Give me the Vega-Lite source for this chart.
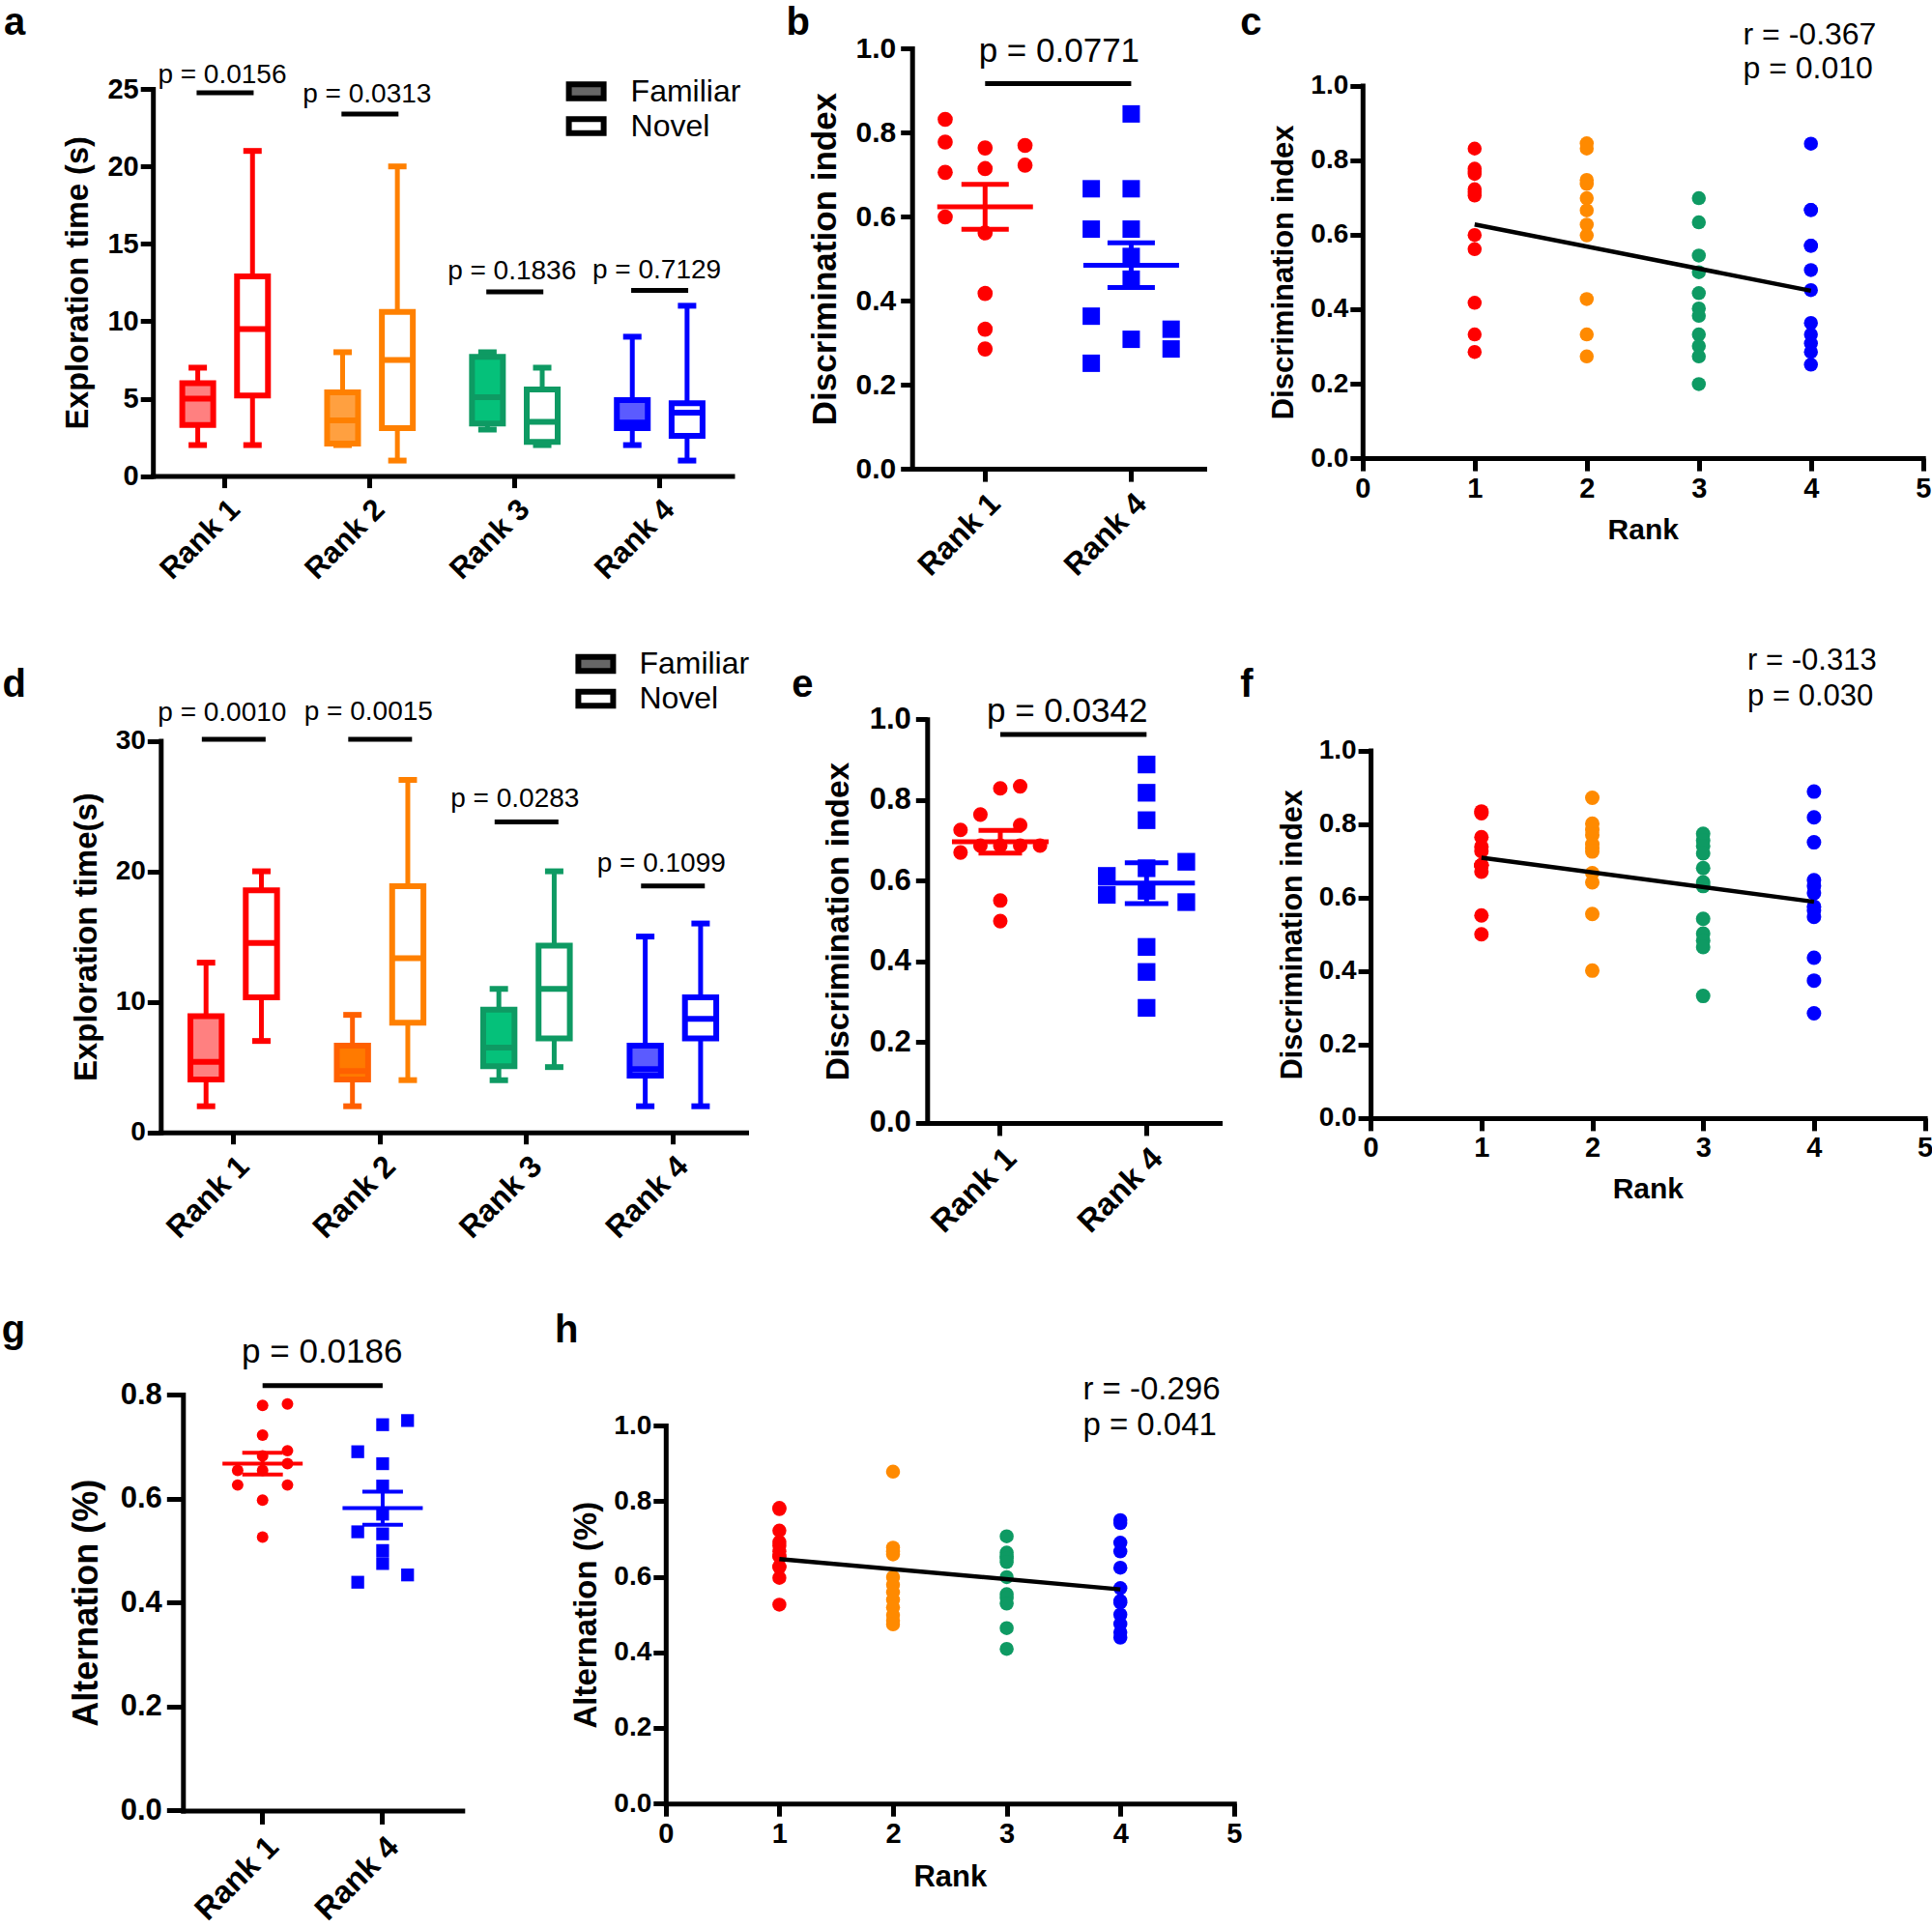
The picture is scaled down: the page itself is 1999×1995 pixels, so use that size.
{
"$schema":"https://vega.github.io/schema/vega-lite/v6.json",
"width":1999,"height":1995,"autosize":{"type":"none"},"padding":0,"background":"white",
"config":{"font":"Liberation Sans","view":{"stroke":null},
"axis":{"grid":false,"domainColor":"#000","domainWidth":5,"tickColor":"#000","tickWidth":5,"labelColor":"#000","labelFont":"Liberation Sans","labelFontWeight":"bold","titleColor":"#000","titleFont":"Liberation Sans","titleFontWeight":"bold","labelOverlap":false,"labelFlush":false,"labelBound":false,"domainCap":"square"},
"text":{"font":"Liberation Sans","color":"#000"},
"circle":{"opacity":1},"square":{"opacity":1},"point":{"opacity":1},"tick":{"opacity":1}},
"datasets":{
"box_a":[
{"n":1,"g":"Familiar","k":"1F","lo":2,"q1":3.3,"med":5.0,"q3":6.0,"hi":7},
{"n":1,"g":"Novel","k":"1N","lo":2,"q1":5.2,"med":9.5,"q3":12.9,"hi":21},
{"n":2,"g":"Familiar","k":"2F","lo":2,"q1":2.1,"med":3.6,"q3":5.4,"hi":8},
{"n":2,"g":"Novel","k":"2N","lo":1,"q1":3.1,"med":7.5,"q3":10.6,"hi":20},
{"n":3,"g":"Familiar","k":"3F","lo":3,"q1":3.4,"med":5.1,"q3":7.7,"hi":8},
{"n":3,"g":"Novel","k":"3N","lo":2,"q1":2.2,"med":3.5,"q3":5.6,"hi":7},
{"n":4,"g":"Familiar","k":"4F","lo":2,"q1":3.1,"med":3.45,"q3":4.9,"hi":9},
{"n":4,"g":"Novel","k":"4N","lo":1,"q1":2.6,"med":4.1,"q3":4.7,"hi":11}],
"box_d":[
{"n":1,"g":"Familiar","k":"1F","lo":2,"q1":4.05,"med":5.4,"q3":8.9,"hi":13},
{"n":1,"g":"Novel","k":"1N","lo":7,"q1":10.35,"med":14.5,"q3":18.55,"hi":20},
{"n":2,"g":"Familiar","k":"2F","lo":2,"q1":4.05,"med":4.7,"q3":6.65,"hi":9},
{"n":2,"g":"Novel","k":"2N","lo":4,"q1":8.4,"med":13.35,"q3":18.85,"hi":27},
{"n":3,"g":"Familiar","k":"3F","lo":4,"q1":5.06,"med":6.5,"q3":9.4,"hi":11},
{"n":3,"g":"Novel","k":"3N","lo":5,"q1":7.2,"med":11,"q3":14.3,"hi":20},
{"n":4,"g":"Familiar","k":"4F","lo":2,"q1":4.35,"med":4.85,"q3":6.65,"hi":15},
{"n":4,"g":"Novel","k":"4N","lo":2,"q1":7.2,"med":8.7,"q3":10.35,"hi":16}],
"p_a":[{"n":1,"bar":24.76,"ty":25.88,"label":"p = 0.0156"},{"n":2,"bar":23.39,"ty":24.66,"label":"p = 0.0313"},{"n":3,"bar":11.89,"ty":13.21,"label":"p = 0.1836"},{"n":4,"bar":11.99,"ty":13.26,"label":"p = 0.7129"}],
"p_d":[{"n":1,"bar":30.11,"ty":32.08,"label":"p = 0.0010"},{"n":2,"bar":30.11,"ty":32.22,"label":"p = 0.0015"},{"n":3,"bar":23.78,"ty":25.54,"label":"p = 0.0283"},{"n":4,"bar":18.87,"ty":20.59,"label":"p = 0.1099"}],
"di_nor":[
{"n":1,"lane":-1,"v":0.831},{"n":1,"lane":-1,"v":0.777},{"n":1,"lane":-1,"v":0.705},{"n":1,"lane":-1,"v":0.599},
{"n":1,"lane":0,"v":0.763},{"n":1,"lane":0,"v":0.714},{"n":1,"lane":0,"v":0.561},{"n":1,"lane":0,"v":0.417},{"n":1,"lane":0,"v":0.332},{"n":1,"lane":0,"v":0.285},
{"n":1,"lane":1,"v":0.769},{"n":1,"lane":1,"v":0.722},
{"n":2,"v":0.845},{"n":2,"v":0.831},{"n":2,"v":0.747},{"n":2,"v":0.736},{"n":2,"v":0.698},{"n":2,"v":0.665},{"n":2,"v":0.627},{"n":2,"v":0.598},{"n":2,"v":0.427},{"n":2,"v":0.332},{"n":2,"v":0.273},
{"n":3,"v":0.698},{"n":3,"v":0.633},{"n":3,"v":0.544},{"n":3,"v":0.499},{"n":3,"v":0.443},{"n":3,"v":0.402},{"n":3,"v":0.382},{"n":3,"v":0.332},{"n":3,"v":0.301},{"n":3,"v":0.273},{"n":3,"v":0.199},
{"n":4,"lane":-1,"v":0.666},{"n":4,"lane":-1,"v":0.570},{"n":4,"lane":-1,"v":0.363},{"n":4,"lane":-1,"v":0.251},
{"n":4,"lane":0,"v":0.844},{"n":4,"lane":0,"v":0.666},{"n":4,"lane":0,"v":0.570},{"n":4,"lane":0,"v":0.505},{"n":4,"lane":0,"v":0.451},{"n":4,"lane":0,"v":0.308},
{"n":4,"lane":1,"v":0.332},{"n":4,"lane":1,"v":0.285}],
"di_5":[
{"n":1,"lane":0,"v":0.829},{"n":1,"lane":0,"v":0.687},{"n":1,"lane":0,"v":0.551},{"n":1,"lane":0,"v":0.5},
{"n":1,"lane":0.5,"v":0.834},{"n":1,"lane":0.5,"v":0.738},{"n":1,"lane":0.5,"v":0.687},
{"n":1,"lane":-0.5,"v":0.764},{"n":1,"lane":-0.5,"v":0.687},
{"n":1,"lane":-1,"v":0.726},{"n":1,"lane":-1,"v":0.670},{"n":1,"lane":1,"v":0.687},
{"n":2,"v":0.871},{"n":2,"v":0.801},{"n":2,"v":0.784},{"n":2,"v":0.77},{"n":2,"v":0.745},{"n":2,"v":0.735},{"n":2,"v":0.725},{"n":2,"v":0.666},{"n":2,"v":0.641},{"n":2,"v":0.555},{"n":2,"v":0.401},
{"n":3,"v":0.773},{"n":3,"v":0.755},{"n":3,"v":0.74},{"n":3,"v":0.72},{"n":3,"v":0.68},{"n":3,"v":0.641},{"n":3,"v":0.631},{"n":3,"v":0.542},{"n":3,"v":0.502},{"n":3,"v":0.483},{"n":3,"v":0.465},{"n":3,"v":0.332},
{"n":4,"lane":0,"v":0.888},{"n":4,"lane":0,"v":0.818},{"n":4,"lane":0,"v":0.75},{"n":4,"lane":0,"v":0.631},{"n":4,"lane":0,"v":0.575},{"n":4,"lane":0,"v":0.436},{"n":4,"lane":0,"v":0.374},{"n":4,"lane":0,"v":0.285},
{"n":4,"lane":-1,"v":0.612},{"n":4,"lane":-1,"v":0.565},{"n":4,"lane":1,"v":0.647},{"n":4,"lane":1,"v":0.547}],
"alt":[
{"n":1,"lane":0,"v":0.779},{"n":1,"lane":0,"v":0.722},{"n":1,"lane":0,"v":0.682},{"n":1,"lane":0,"v":0.654},{"n":1,"lane":0,"v":0.597},{"n":1,"lane":0,"v":0.526},
{"n":1,"lane":1,"v":0.782},{"n":1,"lane":1,"v":0.692},{"n":1,"lane":1,"v":0.667},{"n":1,"lane":1,"v":0.626},
{"n":1,"lane":-1,"v":0.654},{"n":1,"lane":-1,"v":0.626},
{"n":2,"v":0.878},{"n":2,"v":0.677},{"n":2,"v":0.667},{"n":2,"v":0.659},{"n":2,"v":0.599},{"n":2,"v":0.579},{"n":2,"v":0.559},{"n":2,"v":0.539},{"n":2,"v":0.519},{"n":2,"v":0.499},{"n":2,"v":0.484},{"n":2,"v":0.474},
{"n":3,"v":0.707},{"n":3,"v":0.664},{"n":3,"v":0.654},{"n":3,"v":0.649},{"n":3,"v":0.639},{"n":3,"v":0.599},{"n":3,"v":0.554},{"n":3,"v":0.544},{"n":3,"v":0.529},{"n":3,"v":0.464},{"n":3,"v":0.409},
{"n":4,"lane":0,"v":0.742},{"n":4,"lane":0,"v":0.667},{"n":4,"lane":0,"v":0.624},{"n":4,"lane":0,"v":0.570},{"n":4,"lane":0,"v":0.532},{"n":4,"lane":0,"v":0.5},{"n":4,"lane":0,"v":0.475},
{"n":4,"lane":-1,"v":0.690},{"n":4,"lane":-1,"v":0.536},{"n":4,"lane":-1,"v":0.439},
{"n":4,"lane":1,"v":0.75},{"n":4,"lane":1,"v":0.453}]
},
"layer":[
{
"data":{"name":"box_a"},
"resolve":{"scale":{"fill":"independent"},"legend":{"fill":"independent"}},
"encoding":{"x":{"field":"n","type":"ordinal","scale":{"type":"band","domain":[1,2,3,4],"range":[158,757.5],"paddingInner":0,"paddingOuter":0},"axis":{"orient":"bottom","offset":-1502.4,"title":null,"labelExpr":"'Rank ' + datum.value","labelAngle":-45,"labelFontSize":31,"bandPosition":0.5,"tickSize":12,"labelPadding":7}}},
"layer":[
{"mark":{"type":"rule","strokeWidth":5},"encoding":{"xOffset":{"field":"g","type":"nominal","scale":{"domain":["Familiar","Novel"],"paddingInner":0.435,"paddingOuter":0.54}},"y":{"field":"lo","type":"quantitative","scale":{"domain":[0,25],"range":[492.6,92.1],"nice":false,"zero":false},"axis":{"orient":"left","offset":-158.2,"title":"Exploration time (s)","values":[0,5,10,15,20,25],"labelFontSize":29,"titleFontSize":32.5,"tickSize":13,"labelPadding":2,"titlePadding":13}},"y2":{"field":"q1"},"color":{"field":"k","type":"nominal","scale":{"domain":["1F","1N","2F","2N","3F","3N","4F","4N"],"range":["#FF0000","#FF0000","#FF8000","#FF8000","#0E9A63","#0E9A63","#0000FF","#0000FF"]},"legend":null}}},
{"mark":{"type":"rule","strokeWidth":5},"encoding":{"xOffset":{"field":"g","type":"nominal"},"y":{"field":"q3","type":"quantitative","scale":{"domain":[0,25],"range":[492.6,92.1],"nice":false,"zero":false},"axis":{"orient":"left","offset":-158.2,"title":"Exploration time (s)","values":[0,5,10,15,20,25],"labelFontSize":29,"titleFontSize":32.5,"tickSize":13,"labelPadding":2,"titlePadding":13}},"y2":{"field":"hi"},"color":{"field":"k","type":"nominal","legend":null}}},
{"mark":{"type":"tick","size":19,"thickness":6},"encoding":{"xOffset":{"field":"g","type":"nominal"},"y":{"field":"lo","type":"quantitative","scale":{"domain":[0,25],"range":[492.6,92.1],"nice":false,"zero":false},"axis":{"orient":"left","offset":-158.2,"title":"Exploration time (s)","values":[0,5,10,15,20,25],"labelFontSize":29,"titleFontSize":32.5,"tickSize":13,"labelPadding":2,"titlePadding":13}},"color":{"field":"k","type":"nominal","legend":null}}},
{"mark":{"type":"tick","size":19,"thickness":6},"encoding":{"xOffset":{"field":"g","type":"nominal"},"y":{"field":"hi","type":"quantitative","scale":{"domain":[0,25],"range":[492.6,92.1],"nice":false,"zero":false},"axis":{"orient":"left","offset":-158.2,"title":"Exploration time (s)","values":[0,5,10,15,20,25],"labelFontSize":29,"titleFontSize":32.5,"tickSize":13,"labelPadding":2,"titlePadding":13}},"color":{"field":"k","type":"nominal","legend":null}}},
{"mark":{"type":"bar","strokeWidth":6},"encoding":{"xOffset":{"field":"g","type":"nominal"},"y":{"field":"q1","type":"quantitative","scale":{"domain":[0,25],"range":[492.6,92.1],"nice":false,"zero":false},"axis":{"orient":"left","offset":-158.2,"title":"Exploration time (s)","values":[0,5,10,15,20,25],"labelFontSize":29,"titleFontSize":32.5,"tickSize":13,"labelPadding":2,"titlePadding":13}},"y2":{"field":"q3"},"fill":{"field":"k","type":"nominal","scale":{"domain":["1F","1N","2F","2N","3F","3N","4F","4N"],"range":["#FF8080","#FFFFFF","#FFA040","#FFFFFF","#05C17A","#FFFFFF","#5B5BFF","#FFFFFF"]},"legend":null},"stroke":{"field":"k","type":"nominal","scale":{"domain":["1F","1N","2F","2N","3F","3N","4F","4N"],"range":["#FF0000","#FF0000","#FF8000","#FF8000","#0E9A63","#0E9A63","#0000FF","#0000FF"]},"legend":null}}},
{"mark":{"type":"tick","size":32,"thickness":6},"encoding":{"xOffset":{"field":"g","type":"nominal"},"y":{"field":"med","type":"quantitative","scale":{"domain":[0,25],"range":[492.6,92.1],"nice":false,"zero":false},"axis":{"orient":"left","offset":-158.2,"title":"Exploration time (s)","values":[0,5,10,15,20,25],"labelFontSize":29,"titleFontSize":32.5,"tickSize":13,"labelPadding":2,"titlePadding":13}},"color":{"field":"k","type":"nominal","legend":null}}},
{"data":{"name":"p_a"},"mark":{"type":"tick","size":59,"thickness":5,"color":"#000"},"encoding":{"y":{"field":"bar","type":"quantitative","scale":{"domain":[0,25],"range":[492.6,92.1],"nice":false,"zero":false},"axis":{"orient":"left","offset":-158.2,"title":"Exploration time (s)","values":[0,5,10,15,20,25],"labelFontSize":29,"titleFontSize":32.5,"tickSize":13,"labelPadding":2,"titlePadding":13}}}},
{"data":{"name":"p_a"},"mark":{"type":"text","fontSize":28,"dx":-3},"encoding":{"y":{"field":"ty","type":"quantitative","scale":{"domain":[0,25],"range":[492.6,92.1],"nice":false,"zero":false},"axis":{"orient":"left","offset":-158.2,"title":"Exploration time (s)","values":[0,5,10,15,20,25],"labelFontSize":29,"titleFontSize":32.5,"tickSize":13,"labelPadding":2,"titlePadding":13}},"text":{"field":"label"}}},
{"data":{"values":[]},"mark":{"type":"point","filled":true,"stroke":"#000","strokeWidth":6,"shape":"M-1.5,-0.6H1.5V0.6H-1.5Z","size":576},
"encoding":{"fill":{"field":"g","type":"nominal","scale":{"domain":["Familiar","Novel"],"range":["#666666","#FFFFFF"]},"legend":{"orient":"none","legendX":581.6,"legendY":77.5,"title":null,"symbolType":"M-1.5,-0.6H1.5V0.6H-1.5Z","symbolSize":576,"symbolOffset":9,"symbolStrokeColor":"#000","symbolStrokeWidth":6,"labelFontSize":32,"labelFontWeight":"normal","labelColor":"#000","labelOffset":30,"rowPadding":2,"clipHeight":34,"padding":0}}}}
]},
{
"data":{"name":"di_nor"},
"encoding":{"x":{"field":"n","type":"ordinal","scale":{"type":"band","domain":[1,4],"range":[943.7,1246],"paddingInner":0,"paddingOuter":0},"axis":{"orient":"bottom","offset":-1509.9,"title":null,"labelExpr":"'Rank ' + datum.value","labelAngle":-45,"labelFontSize":32,"bandPosition":0.5,"tickSize":13,"labelPadding":7}},
"y":{"field":"v","type":"quantitative","scale":{"domain":[0,1],"range":[485.1,50],"nice":false,"zero":false},"axis":{"orient":"left","offset":-943.7,"title":"Discrimination index","values":[0,0.2,0.4,0.6,0.8,1],"format":".1f","labelFontSize":30,"titleFontSize":35,"tickSize":12,"labelPadding":5,"titlePadding":13}}},
"layer":[
{"transform":[{"filter":"datum.n == 1"}],"mark":{"type":"circle","size":246},"encoding":{"xOffset":{"field":"lane","type":"quantitative","scale":{"domain":[-1.83,1.83]}},"color":{"field":"n","type":"nominal","scale":{"domain":[1,2,3,4],"range":["#FF0000","#FF8A00","#0E9A63","#0000FF"]},"legend":null}}},
{"transform":[{"filter":"datum.n == 4"}],"mark":{"type":"square","size":324},"encoding":{"xOffset":{"field":"lane","type":"quantitative"},"color":{"field":"n","type":"nominal","legend":null}}},
{"transform":[{"filter":"datum.n == 1 || datum.n == 4"}],"mark":{"type":"errorbar","extent":"stderr","thickness":5,"ticks":{"size":49,"thickness":5}},"encoding":{"color":{"field":"n","type":"nominal","legend":null}}},
{"transform":[{"filter":"datum.n == 1 || datum.n == 4"}],"mark":{"type":"tick","size":99,"thickness":5},"encoding":{"y":{"aggregate":"mean","field":"v","type":"quantitative","axis":{"orient":"left","offset":-943.7,"title":"Discrimination index","values":[0,0.2,0.4,0.6,0.8,1],"format":".1f","labelFontSize":30,"titleFontSize":35,"tickSize":12,"labelPadding":5,"titlePadding":13}},"color":{"field":"n","type":"nominal","legend":null}}},
{"data":{"values":[{"n":1,"n2":4,"v":0.916}]},"mark":{"type":"rule","strokeWidth":5,"color":"#000"},"encoding":{"x2":{"field":"n2"}}},
{"data":{"values":[{"n":1,"v":0.994,"label":"p = 0.0771"}]},"mark":{"type":"text","fontSize":35,"align":"left","dx":-6.6},"encoding":{"text":{"field":"label"}}}
]},
{
"data":{"name":"di_nor"},
"encoding":{"x":{"field":"n","type":"quantitative","scale":{"domain":[0,5],"range":[1409.8,1989.7],"nice":false,"zero":false},"axis":{"orient":"bottom","offset":-1520.9,"title":"Rank","values":[0,1,2,3,4,5],"format":"d","labelFontSize":29,"titleFontSize":30,"tickSize":13,"labelPadding":4,"titlePadding":13}},
"y":{"field":"v","type":"quantitative","scale":{"domain":[0,1],"range":[474.1,88.6],"nice":false,"zero":false},"axis":{"orient":"left","offset":-1409.8,"title":"Discrimination index","values":[0,0.2,0.4,0.6,0.8,1],"format":".1f","labelFontSize":28,"titleFontSize":31,"tickSize":13,"labelPadding":2,"titlePadding":11}}},
"layer":[
{"mark":{"type":"circle","size":210},"encoding":{"color":{"field":"n","type":"nominal","scale":{"domain":[1,2,3,4],"range":["#FF0000","#FF8A00","#0E9A63","#0000FF"]},"legend":null}}},
{"transform":[{"regression":"v","on":"n","extent":[1,4]}],"mark":{"type":"line","color":"#000","strokeWidth":4.5},"encoding":{}},
{"data":{"values":[{"n":3.395,"v":1.137,"label":"r = -0.367"},{"n":3.395,"v":1.046,"label":"p = 0.010"}]},"mark":{"type":"text","fontSize":32,"align":"left"},"encoding":{"text":{"field":"label"}}},
{"data":{"values":[{"n":-12.12,"v":1.2192,"label":"a"},{"n":-5.141,"v":1.2192,"label":"b"},{"n":-1.091,"v":1.2192,"label":"c"}]},"mark":{"type":"text","fontSize":40,"fontWeight":"bold","align":"left","baseline":"top"},"encoding":{"text":{"field":"label"}}}
]},
{
"data":{"name":"box_d"},
"resolve":{"scale":{"fill":"independent"},"legend":{"fill":"independent"}},
"encoding":{"x":{"field":"n","type":"ordinal","scale":{"type":"band","domain":[1,2,3,4],"range":[166.1,772],"paddingInner":0,"paddingOuter":0},"axis":{"orient":"bottom","offset":-823.3,"title":null,"labelExpr":"'Rank ' + datum.value","labelAngle":-45,"labelFontSize":32,"bandPosition":0.5,"tickSize":12,"labelPadding":7}}},
"layer":[
{"mark":{"type":"rule","strokeWidth":5},"encoding":{"xOffset":{"field":"g","type":"nominal","scale":{"domain":["Familiar","Novel"],"paddingInner":0.435,"paddingOuter":0.54}},"y":{"field":"lo","type":"quantitative","scale":{"domain":[0,30],"range":[1171.7,766.5],"nice":false,"zero":false},"axis":{"orient":"left","offset":-166.3,"title":"Exploration time(s)","values":[0,10,20,30],"labelFontSize":28,"titleFontSize":33,"tickSize":14,"labelPadding":2,"titlePadding":13}},"y2":{"field":"q1"},"color":{"field":"k","type":"nominal","scale":{"domain":["1F","1N","2F","2N","3F","3N","4F","4N"],"range":["#FF0000","#FF0000","#FF6000","#FF8000","#0E9A63","#0E9A63","#0000FF","#0000FF"]},"legend":null}}},
{"mark":{"type":"rule","strokeWidth":5},"encoding":{"xOffset":{"field":"g","type":"nominal"},"y":{"field":"q3","type":"quantitative","scale":{"domain":[0,30],"range":[1171.7,766.5],"nice":false,"zero":false},"axis":{"orient":"left","offset":-166.3,"title":"Exploration time(s)","values":[0,10,20,30],"labelFontSize":28,"titleFontSize":33,"tickSize":14,"labelPadding":2,"titlePadding":13}},"y2":{"field":"hi"},"color":{"field":"k","type":"nominal","legend":null}}},
{"mark":{"type":"tick","size":19,"thickness":6},"encoding":{"xOffset":{"field":"g","type":"nominal"},"y":{"field":"lo","type":"quantitative","scale":{"domain":[0,30],"range":[1171.7,766.5],"nice":false,"zero":false},"axis":{"orient":"left","offset":-166.3,"title":"Exploration time(s)","values":[0,10,20,30],"labelFontSize":28,"titleFontSize":33,"tickSize":14,"labelPadding":2,"titlePadding":13}},"color":{"field":"k","type":"nominal","legend":null}}},
{"mark":{"type":"tick","size":19,"thickness":6},"encoding":{"xOffset":{"field":"g","type":"nominal"},"y":{"field":"hi","type":"quantitative","scale":{"domain":[0,30],"range":[1171.7,766.5],"nice":false,"zero":false},"axis":{"orient":"left","offset":-166.3,"title":"Exploration time(s)","values":[0,10,20,30],"labelFontSize":28,"titleFontSize":33,"tickSize":14,"labelPadding":2,"titlePadding":13}},"color":{"field":"k","type":"nominal","legend":null}}},
{"mark":{"type":"bar","strokeWidth":6},"encoding":{"xOffset":{"field":"g","type":"nominal"},"y":{"field":"q1","type":"quantitative","scale":{"domain":[0,30],"range":[1171.7,766.5],"nice":false,"zero":false},"axis":{"orient":"left","offset":-166.3,"title":"Exploration time(s)","values":[0,10,20,30],"labelFontSize":28,"titleFontSize":33,"tickSize":14,"labelPadding":2,"titlePadding":13}},"y2":{"field":"q3"},"fill":{"field":"k","type":"nominal","scale":{"domain":["1F","1N","2F","2N","3F","3N","4F","4N"],"range":["#FF8080","#FFFFFF","#FF7A00","#FFFFFF","#05C17A","#FFFFFF","#5B5BFF","#FFFFFF"]},"legend":null},"stroke":{"field":"k","type":"nominal","scale":{"domain":["1F","1N","2F","2N","3F","3N","4F","4N"],"range":["#FF0000","#FF0000","#FF6000","#FF8000","#0E9A63","#0E9A63","#0000FF","#0000FF"]},"legend":null}}},
{"mark":{"type":"tick","size":32,"thickness":6},"encoding":{"xOffset":{"field":"g","type":"nominal"},"y":{"field":"med","type":"quantitative","scale":{"domain":[0,30],"range":[1171.7,766.5],"nice":false,"zero":false},"axis":{"orient":"left","offset":-166.3,"title":"Exploration time(s)","values":[0,10,20,30],"labelFontSize":28,"titleFontSize":33,"tickSize":14,"labelPadding":2,"titlePadding":13}},"color":{"field":"k","type":"nominal","legend":null}}},
{"data":{"name":"p_d"},"mark":{"type":"tick","size":66,"thickness":5,"color":"#000"},"encoding":{"y":{"field":"bar","type":"quantitative","scale":{"domain":[0,30],"range":[1171.7,766.5],"nice":false,"zero":false},"axis":{"orient":"left","offset":-166.3,"title":"Exploration time(s)","values":[0,10,20,30],"labelFontSize":28,"titleFontSize":33,"tickSize":14,"labelPadding":2,"titlePadding":13}}}},
{"data":{"name":"p_d"},"mark":{"type":"text","fontSize":28,"dx":-12},"encoding":{"y":{"field":"ty","type":"quantitative","scale":{"domain":[0,30],"range":[1171.7,766.5],"nice":false,"zero":false},"axis":{"orient":"left","offset":-166.3,"title":"Exploration time(s)","values":[0,10,20,30],"labelFontSize":28,"titleFontSize":33,"tickSize":14,"labelPadding":2,"titlePadding":13}},"text":{"field":"label"}}},
{"data":{"values":[]},"mark":{"type":"point","filled":true,"stroke":"#000","strokeWidth":6,"shape":"M-1.5,-0.6H1.5V0.6H-1.5Z","size":576},
"encoding":{"fill":{"field":"g","type":"nominal","scale":{"domain":["Familiar","Novel"],"range":["#666666","#FFFFFF"]},"legend":{"orient":"none","legendX":591.4,"legendY":670,"title":null,"symbolType":"M-1.5,-0.6H1.5V0.6H-1.5Z","symbolSize":576,"symbolOffset":9,"symbolStrokeColor":"#000","symbolStrokeWidth":6,"labelFontSize":32,"labelFontWeight":"normal","labelColor":"#000","labelOffset":29,"rowPadding":2,"clipHeight":34,"padding":0}}}}
]},
{
"data":{"name":"di_5"},
"encoding":{"x":{"field":"n","type":"ordinal","scale":{"type":"band","domain":[1,4],"range":[959.3,1262],"paddingInner":0,"paddingOuter":0},"axis":{"orient":"bottom","offset":-833.1,"title":null,"labelExpr":"'Rank ' + datum.value","labelAngle":-45,"labelFontSize":33,"bandPosition":0.5,"tickSize":13,"labelPadding":7}},
"y":{"field":"v","type":"quantitative","scale":{"domain":[0,1],"range":[1161.9,744.3],"nice":false,"zero":false},"axis":{"orient":"left","offset":-959.3,"title":"Discrimination index","values":[0,0.2,0.4,0.6,0.8,1],"format":".1f","labelFontSize":31,"titleFontSize":33.5,"tickSize":12,"labelPadding":5,"titlePadding":15}}},
"layer":[
{"transform":[{"filter":"datum.n == 1"}],"mark":{"type":"circle","size":227},"encoding":{"xOffset":{"field":"lane","type":"quantitative","scale":{"domain":[-1.84,1.84]}},"color":{"field":"n","type":"nominal","scale":{"domain":[1,2,3,4],"range":["#FF0000","#FF8A00","#0E9A63","#0000FF"]},"legend":null}}},
{"transform":[{"filter":"datum.n == 4"}],"mark":{"type":"square","size":335},"encoding":{"xOffset":{"field":"lane","type":"quantitative"},"color":{"field":"n","type":"nominal","legend":null}}},
{"transform":[{"filter":"datum.n == 1 || datum.n == 4"}],"mark":{"type":"errorbar","extent":"stderr","thickness":5,"ticks":{"size":45,"thickness":5}},"encoding":{"color":{"field":"n","type":"nominal","legend":null}}},
{"transform":[{"filter":"datum.n == 1 || datum.n == 4"}],"mark":{"type":"tick","size":100,"thickness":5},"encoding":{"y":{"aggregate":"mean","field":"v","type":"quantitative","axis":{"orient":"left","offset":-959.3,"title":"Discrimination index","values":[0,0.2,0.4,0.6,0.8,1],"format":".1f","labelFontSize":31,"titleFontSize":33.5,"tickSize":12,"labelPadding":5,"titlePadding":15}},"color":{"field":"n","type":"nominal","legend":null}}},
{"data":{"values":[{"n":1,"n2":4,"v":0.9627}]},"mark":{"type":"rule","strokeWidth":5,"color":"#000"},"encoding":{"x2":{"field":"n2"}}},
{"data":{"values":[{"n":1,"v":1.0187,"label":"p = 0.0342"}]},"mark":{"type":"text","fontSize":35,"align":"left","dx":-14},"encoding":{"text":{"field":"label"}}}
]},
{
"data":{"name":"di_5"},
"encoding":{"x":{"field":"n","type":"quantitative","scale":{"domain":[0,5],"range":[1418.1,1991.6],"nice":false,"zero":false},"axis":{"orient":"bottom","offset":-838.1,"title":"Rank","values":[0,1,2,3,4,5],"format":"d","labelFontSize":29,"titleFontSize":30,"tickSize":13,"labelPadding":4,"titlePadding":13}},
"y":{"field":"v","type":"quantitative","scale":{"domain":[0,1],"range":[1156.9,776.5],"nice":false,"zero":false},"axis":{"orient":"left","offset":-1418.1,"title":"Discrimination index","values":[0,0.2,0.4,0.6,0.8,1],"format":".1f","labelFontSize":28,"titleFontSize":30.5,"tickSize":13,"labelPadding":2,"titlePadding":12}}},
"layer":[
{"mark":{"type":"circle","size":225},"encoding":{"color":{"field":"n","type":"nominal","scale":{"domain":[1,2,3,4],"range":["#FF0000","#FF8A00","#0E9A63","#0000FF"]},"legend":null}}},
{"transform":[{"regression":"v","on":"n","extent":[1,4]}],"mark":{"type":"line","color":"#000","strokeWidth":4.5},"encoding":{}},
{"data":{"values":[{"n":3.40,"v":1.243,"label":"r = -0.313"},{"n":3.40,"v":1.146,"label":"p = 0.030"}]},"mark":{"type":"text","fontSize":31,"align":"left"},"encoding":{"text":{"field":"label"}}},
{"data":{"values":[{"n":-12.342,"v":1.2303,"label":"d"},{"n":-5.221,"v":1.2303,"label":"e"},{"n":-1.175,"v":1.2303,"label":"f"}]},"mark":{"type":"text","fontSize":40,"fontWeight":"bold","align":"left","baseline":"top"},"encoding":{"text":{"field":"label"}}}
]},
{
"data":{"name":"alt"},
"encoding":{"x":{"field":"n","type":"ordinal","scale":{"type":"band","domain":[1,4],"range":[189.3,478.3],"paddingInner":0,"paddingOuter":0.163},"axis":{"orient":"bottom","offset":-121.6,"title":null,"labelExpr":"'Rank ' + datum.value","labelAngle":-45,"labelFontSize":32.5,"bandPosition":0.5,"tickSize":14,"labelPadding":7}},
"y":{"field":"v","type":"quantitative","scale":{"domain":[0,0.8],"range":[1873.4,1443],"nice":false,"zero":false},"axis":{"orient":"left","offset":-189.3,"title":"Alternation (%)","values":[0,0.2,0.4,0.6,0.8],"format":".1f","labelFontSize":31,"titleFontSize":36,"tickSize":17,"labelPadding":5,"titlePadding":16}}},
"layer":[
{"transform":[{"filter":"datum.n == 1"}],"mark":{"type":"circle","size":143},"encoding":{"xOffset":{"field":"lane","type":"quantitative","scale":{"domain":[-2.41,2.41]}},"color":{"field":"n","type":"nominal","scale":{"domain":[1,2,3,4],"range":["#FF0000","#FF8A00","#0E9A63","#0000FF"]},"legend":null}}},
{"transform":[{"filter":"datum.n == 4"}],"mark":{"type":"square","size":176},"encoding":{"xOffset":{"field":"lane","type":"quantitative"},"color":{"field":"n","type":"nominal","legend":null}}},
{"transform":[{"filter":"datum.n == 1 || datum.n == 4"}],"mark":{"type":"errorbar","extent":"stderr","thickness":4,"ticks":{"size":42,"thickness":4}},"encoding":{"color":{"field":"n","type":"nominal","legend":null}}},
{"transform":[{"filter":"datum.n == 1 || datum.n == 4"}],"mark":{"type":"tick","size":83,"thickness":4},"encoding":{"y":{"aggregate":"mean","field":"v","type":"quantitative","axis":{"orient":"left","offset":-189.3,"title":"Alternation (%)","values":[0,0.2,0.4,0.6,0.8],"format":".1f","labelFontSize":31,"titleFontSize":36,"tickSize":17,"labelPadding":5,"titlePadding":16}},"color":{"field":"n","type":"nominal","legend":null}}},
{"data":{"values":[{"n":1,"n2":4,"v":0.817}]},"mark":{"type":"rule","strokeWidth":5,"color":"#000"},"encoding":{"x2":{"field":"n2"}}},
{"data":{"values":[{"n":1,"v":0.881,"label":"p = 0.0186"}]},"mark":{"type":"text","fontSize":35,"align":"left","dx":-21.6},"encoding":{"text":{"field":"label"}}}
]},
{
"data":{"name":"alt"},
"encoding":{"x":{"field":"n","type":"quantitative","scale":{"domain":[0,5],"range":[688.8,1276.8],"nice":false,"zero":false},"axis":{"orient":"bottom","offset":-128.8,"title":"Rank","values":[0,1,2,3,4,5],"format":"d","labelFontSize":29,"titleFontSize":31,"tickSize":13,"labelPadding":4,"titlePadding":15}},
"y":{"field":"v","type":"quantitative","scale":{"domain":[0,1],"range":[1866.2,1475.1],"nice":false,"zero":false},"axis":{"orient":"left","offset":-688.8,"title":"Alternation (%)","values":[0,0.2,0.4,0.6,0.8,1],"format":".1f","labelFontSize":28,"titleFontSize":33,"tickSize":13,"labelPadding":2,"titlePadding":11}}},
"layer":[
{"mark":{"type":"circle","size":210},"encoding":{"color":{"field":"n","type":"nominal","scale":{"domain":[1,2,3,4],"range":["#FF0000","#FF8A00","#0E9A63","#0000FF"]},"legend":null}}},
{"transform":[{"regression":"v","on":"n","extent":[1,4]}],"mark":{"type":"line","color":"#000","strokeWidth":4.5},"encoding":{}},
{"data":{"values":[{"n":3.67,"v":1.096,"label":"r = -0.296"},{"n":3.67,"v":1.0005,"label":"p = 0.041"}]},"mark":{"type":"text","fontSize":33,"align":"left"},"encoding":{"text":{"field":"label"}}},
{"data":{"values":[{"n":-5.843,"v":1.301,"label":"g"},{"n":-0.976,"v":1.301,"label":"h"}]},"mark":{"type":"text","fontSize":40,"fontWeight":"bold","align":"left","baseline":"top"},"encoding":{"text":{"field":"label"}}}
]}
],
"resolve":{"scale":{"x":"independent","y":"independent","xOffset":"independent","fill":"independent","color":"independent","stroke":"independent"},"axis":{"x":"independent","y":"independent"},"legend":{"fill":"independent"}}
}
